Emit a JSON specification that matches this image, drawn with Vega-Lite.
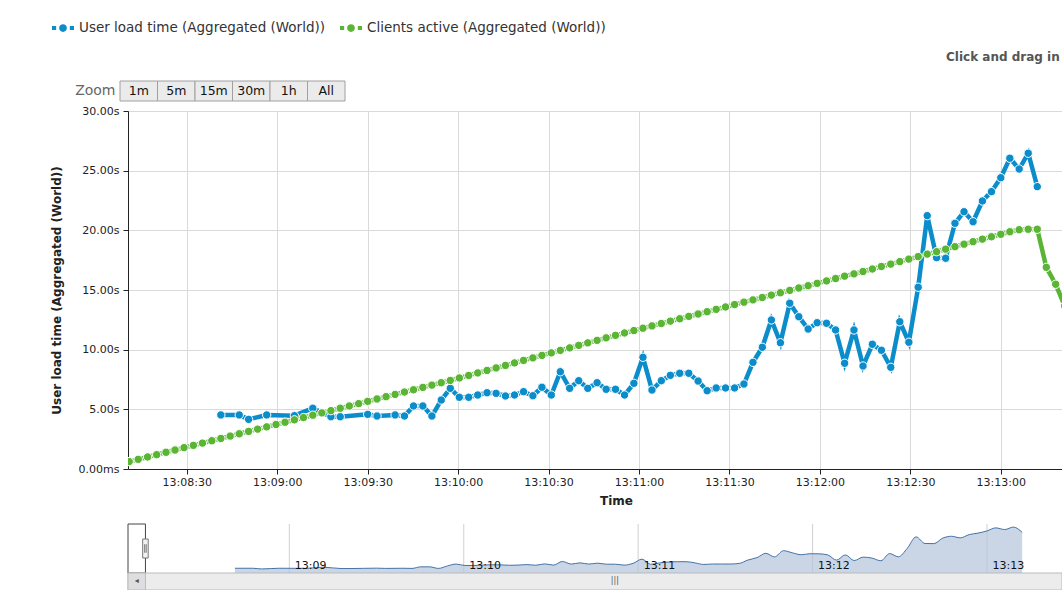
{
  "$schema": "https://vega.github.io/schema/vega-lite/v6.json",
  "background": "white",
  "autosize": {"type": "pad"},
  "padding": {"left": 50, "top": 15, "right": 0, "bottom": 0},
  "spacing": 3,
  "config": {
    "font": "DejaVu Sans",
    "view": {"stroke": null},
    "axis": {"labelFont": "DejaVu Sans", "titleFont": "DejaVu Sans"}
  },
  "data": {
    "values": [
      {"t": "2013-01-01T13:08:10.900", "clients": 0.62},
      {"t": "2013-01-01T13:08:13.900", "clients": 0.81},
      {"t": "2013-01-01T13:08:17.000", "clients": 1.01},
      {"t": "2013-01-01T13:08:20.000", "clients": 1.20},
      {"t": "2013-01-01T13:08:23.100", "clients": 1.40},
      {"t": "2013-01-01T13:08:26.100", "clients": 1.59},
      {"t": "2013-01-01T13:08:29.100", "clients": 1.79},
      {"t": "2013-01-01T13:08:32.200", "clients": 1.98},
      {"t": "2013-01-01T13:08:35.200", "clients": 2.17},
      {"t": "2013-01-01T13:08:38.300", "clients": 2.37},
      {"t": "2013-01-01T13:08:41.300", "load": 4.53, "clients": 2.56},
      {"t": "2013-01-01T13:08:44.400", "clients": 2.76},
      {"t": "2013-01-01T13:08:47.400", "load": 4.53, "clients": 2.95},
      {"t": "2013-01-01T13:08:50.500", "load": 4.16, "clients": 3.15},
      {"t": "2013-01-01T13:08:53.500", "clients": 3.34},
      {"t": "2013-01-01T13:08:56.500", "load": 4.53, "clients": 3.53},
      {"t": "2013-01-01T13:08:59.600", "clients": 3.73},
      {"t": "2013-01-01T13:09:02.600", "clients": 3.92},
      {"t": "2013-01-01T13:09:05.700", "load": 4.47, "clients": 4.12},
      {"t": "2013-01-01T13:09:08.700", "clients": 4.31},
      {"t": "2013-01-01T13:09:11.800", "load": 5.09, "clients": 4.51},
      {"t": "2013-01-01T13:09:14.800", "clients": 4.70},
      {"t": "2013-01-01T13:09:17.800", "load": 4.38, "clients": 4.89},
      {"t": "2013-01-01T13:09:20.900", "load": 4.38, "clients": 5.09},
      {"t": "2013-01-01T13:09:23.900", "clients": 5.28},
      {"t": "2013-01-01T13:09:27.000", "clients": 5.48},
      {"t": "2013-01-01T13:09:30.000", "load": 4.58, "clients": 5.67},
      {"t": "2013-01-01T13:09:33.100", "load": 4.44, "clients": 5.87},
      {"t": "2013-01-01T13:09:36.100", "clients": 6.06},
      {"t": "2013-01-01T13:09:39.100", "load": 4.53, "clients": 6.25},
      {"t": "2013-01-01T13:09:42.200", "load": 4.44, "clients": 6.45},
      {"t": "2013-01-01T13:09:45.200", "load": 5.28, "clients": 6.64},
      {"t": "2013-01-01T13:09:48.300", "load": 5.28, "clients": 6.84},
      {"t": "2013-01-01T13:09:51.300", "load": 4.44, "clients": 7.03},
      {"t": "2013-01-01T13:09:54.400", "load": 5.78, "clients": 7.23},
      {"t": "2013-01-01T13:09:57.400", "load": 6.76, "clients": 7.42},
      {"t": "2013-01-01T13:10:00.400", "load": 6.01, "clients": 7.63},
      {"t": "2013-01-01T13:10:03.500", "load": 6.01, "clients": 7.84},
      {"t": "2013-01-01T13:10:06.500", "load": 6.20, "clients": 8.05},
      {"t": "2013-01-01T13:10:09.600", "load": 6.39, "clients": 8.26},
      {"t": "2013-01-01T13:10:12.600", "load": 6.34, "clients": 8.47},
      {"t": "2013-01-01T13:10:15.700", "load": 6.12, "clients": 8.68},
      {"t": "2013-01-01T13:10:18.700", "load": 6.20, "clients": 8.89},
      {"t": "2013-01-01T13:10:21.700", "load": 6.48, "clients": 9.10},
      {"t": "2013-01-01T13:10:24.800", "load": 6.14, "clients": 9.31},
      {"t": "2013-01-01T13:10:27.800", "load": 6.85, "clients": 9.52},
      {"t": "2013-01-01T13:10:30.900", "load": 6.20, "clients": 9.73},
      {"t": "2013-01-01T13:10:33.900", "load": 8.15, "clients": 9.94},
      {"t": "2013-01-01T13:10:37.000", "load": 6.76, "clients": 10.15},
      {"t": "2013-01-01T13:10:40.000", "load": 7.40, "clients": 10.36},
      {"t": "2013-01-01T13:10:43.000", "load": 6.76, "clients": 10.57},
      {"t": "2013-01-01T13:10:46.100", "load": 7.23, "clients": 10.78},
      {"t": "2013-01-01T13:10:49.100", "load": 6.68, "clients": 10.99},
      {"t": "2013-01-01T13:10:52.200", "load": 6.68, "clients": 11.20},
      {"t": "2013-01-01T13:10:55.200", "load": 6.20, "clients": 11.40},
      {"t": "2013-01-01T13:10:58.300", "load": 7.18, "clients": 11.60},
      {"t": "2013-01-01T13:11:01.300", "load": 9.36, "clients": 11.80},
      {"t": "2013-01-01T13:11:04.300", "load": 6.62, "clients": 11.99},
      {"t": "2013-01-01T13:11:07.400", "load": 7.40, "clients": 12.19},
      {"t": "2013-01-01T13:11:10.400", "load": 7.85, "clients": 12.39},
      {"t": "2013-01-01T13:11:13.500", "load": 8.02, "clients": 12.59},
      {"t": "2013-01-01T13:11:16.500", "load": 8.02, "clients": 12.79},
      {"t": "2013-01-01T13:11:19.600", "load": 7.37, "clients": 12.99},
      {"t": "2013-01-01T13:11:22.600", "load": 6.56, "clients": 13.18},
      {"t": "2013-01-01T13:11:25.600", "load": 6.79, "clients": 13.38},
      {"t": "2013-01-01T13:11:28.700", "load": 6.79, "clients": 13.58},
      {"t": "2013-01-01T13:11:31.700", "load": 6.79, "clients": 13.78},
      {"t": "2013-01-01T13:11:34.800", "load": 7.12, "clients": 13.98},
      {"t": "2013-01-01T13:11:37.800", "load": 8.94, "clients": 14.17},
      {"t": "2013-01-01T13:11:40.900", "load": 10.20, "clients": 14.37},
      {"t": "2013-01-01T13:11:43.900", "load": 12.49, "clients": 14.57},
      {"t": "2013-01-01T13:11:46.900", "load": 10.58, "clients": 14.77},
      {"t": "2013-01-01T13:11:50.000", "load": 13.89, "clients": 14.97},
      {"t": "2013-01-01T13:11:53.000", "load": 12.76, "clients": 15.17},
      {"t": "2013-01-01T13:11:56.100", "load": 11.73, "clients": 15.36},
      {"t": "2013-01-01T13:11:59.100", "load": 12.26, "clients": 15.56},
      {"t": "2013-01-01T13:12:02.200", "load": 12.21, "clients": 15.76},
      {"t": "2013-01-01T13:12:05.200", "load": 11.65, "clients": 15.96},
      {"t": "2013-01-01T13:12:08.200", "load": 8.86, "clients": 16.16},
      {"t": "2013-01-01T13:12:11.300", "load": 11.65, "clients": 16.35},
      {"t": "2013-01-01T13:12:14.300", "load": 8.63, "clients": 16.55},
      {"t": "2013-01-01T13:12:17.400", "load": 10.45, "clients": 16.76},
      {"t": "2013-01-01T13:12:20.400", "load": 9.95, "clients": 16.97},
      {"t": "2013-01-01T13:12:23.500", "load": 8.52, "clients": 17.17},
      {"t": "2013-01-01T13:12:26.500", "load": 12.34, "clients": 17.38},
      {"t": "2013-01-01T13:12:29.500", "load": 10.62, "clients": 17.59},
      {"t": "2013-01-01T13:12:32.600", "load": 15.23, "clients": 17.80},
      {"t": "2013-01-01T13:12:35.600", "load": 21.23, "clients": 18.01},
      {"t": "2013-01-01T13:12:38.700", "load": 17.71, "clients": 18.21},
      {"t": "2013-01-01T13:12:41.700", "load": 17.66, "clients": 18.42},
      {"t": "2013-01-01T13:12:44.800", "load": 20.59, "clients": 18.63},
      {"t": "2013-01-01T13:12:47.800", "load": 21.56, "clients": 18.84},
      {"t": "2013-01-01T13:12:50.800", "load": 20.72, "clients": 19.05},
      {"t": "2013-01-01T13:12:53.900", "load": 22.46, "clients": 19.26},
      {"t": "2013-01-01T13:12:56.900", "load": 23.24, "clients": 19.46},
      {"t": "2013-01-01T13:13:00.000", "load": 24.41, "clients": 19.67},
      {"t": "2013-01-01T13:13:03.000", "load": 26.04, "clients": 19.88},
      {"t": "2013-01-01T13:13:06.100", "load": 25.14, "clients": 20.05},
      {"t": "2013-01-01T13:13:09.100", "load": 26.46, "clients": 20.09},
      {"t": "2013-01-01T13:13:12.100", "load": 23.66, "clients": 20.09},
      {"t": "2013-01-01T13:13:15.100", "clients": 16.90},
      {"t": "2013-01-01T13:13:18.200", "clients": 15.48},
      {"t": "2013-01-01T13:13:21.200", "clients": 13.66}
    ]
  },
  "vconcat": [
    {
      "width": 217,
      "height": 20,
      "data": {"values": [
        {"b": "1m", "row": "Zoom"},
        {"b": "5m", "row": "Zoom"},
        {"b": "15m", "row": "Zoom"},
        {"b": "30m", "row": "Zoom"},
        {"b": "1h", "row": "Zoom"},
        {"b": "All", "row": "Zoom"}
      ]},
      "title": {
        "text": "Click and drag in",
        "anchor": "start",
        "frame": "group",
        "dx": 818,
        "offset": 8,
        "baseline": "alphabetic",
        "font": "DejaVu Sans",
        "fontSize": 12,
        "fontWeight": "bold",
        "color": "#555555"
      },
      "encoding": {
        "x": {"field": "b", "type": "nominal", "sort": null, "scale": {"paddingInner": 0, "paddingOuter": 0, "range": [-8, 217]}, "axis": null},
        "y": {"field": "row", "type": "nominal", "scale": {"paddingInner": 0, "paddingOuter": 0},
              "axis": {"title": null, "domain": false, "ticks": false, "tickSize": 0, "labelFont": "DejaVu Sans", "labelFontSize": 14, "labelColor": "#666666", "labelPadding": 13}}
      },
      "layer": [
        {"mark": {"type": "rect", "stroke": "#a0a0a0", "strokeWidth": 1, "fill": "#ebebeb"}},
        {"mark": {"type": "text", "font": "DejaVu Sans", "fontSize": 12.5, "color": "#111111"},
         "encoding": {"text": {"field": "b"}}}
      ]
    },
    {
      "width": 934,
      "height": 358,
      "encoding": {
        "x": {
          "field": "t", "type": "temporal",
          "scale": {"nice": false, "domain": [
            {"year": 2013, "month": 1, "date": 1, "hours": 13, "minutes": 8, "seconds": 10, "milliseconds": 500},
            {"year": 2013, "month": 1, "date": 1, "hours": 13, "minutes": 13, "seconds": 20, "milliseconds": 300}
          ]},
          "axis": {
            "title": "Time", "titleX": 488, "titleFontSize": 12, "titleFontWeight": "bold", "titleColor": "#222222", "titlePadding": 8,
            "format": "%H:%M:%S",
            "values": [
              {"year": 2013, "month": 1, "date": 1, "hours": 13, "minutes": 8, "seconds": 30},
              {"year": 2013, "month": 1, "date": 1, "hours": 13, "minutes": 9, "seconds": 0},
              {"year": 2013, "month": 1, "date": 1, "hours": 13, "minutes": 9, "seconds": 30},
              {"year": 2013, "month": 1, "date": 1, "hours": 13, "minutes": 10, "seconds": 0},
              {"year": 2013, "month": 1, "date": 1, "hours": 13, "minutes": 10, "seconds": 30},
              {"year": 2013, "month": 1, "date": 1, "hours": 13, "minutes": 11, "seconds": 0},
              {"year": 2013, "month": 1, "date": 1, "hours": 13, "minutes": 11, "seconds": 30},
              {"year": 2013, "month": 1, "date": 1, "hours": 13, "minutes": 12, "seconds": 0},
              {"year": 2013, "month": 1, "date": 1, "hours": 13, "minutes": 12, "seconds": 30},
              {"year": 2013, "month": 1, "date": 1, "hours": 13, "minutes": 13, "seconds": 0}
            ],
            "grid": true, "gridColor": "#dadada", "domainColor": "#222222", "tickColor": "#222222", "tickSize": 5,
            "labelPadding": 2, "labelFontSize": 11, "labelColor": "#222222", "labelFlush": false, "labelOverlap": false
          }
        }
      },
      "layer": [
        {
          "transform": [{"filter": "isValid(datum.load)"}],
          "mark": {"type": "line", "strokeWidth": 4.5, "point": {"filled": true, "size": 70, "stroke": "white", "strokeWidth": 1, "opacity": 1}},
          "encoding": {
            "y": {"field": "load", "type": "quantitative", "scale": {"domain": [0, 30], "nice": false},
                  "axis": {"title": "User load time (Aggregated (World))", "values": [0, 5, 10, 15, 20, 25, 30],
                           "labelExpr": "datum.value === 0 ? '0.00ms' : format(datum.value, '.2f') + 's'",
                           "grid": true, "gridColor": "#dadada", "domainColor": "#222222", "tickColor": "#222222", "tickSize": 5,
                           "labelPadding": 4, "labelFontSize": 11, "labelColor": "#222222", "labelOverlap": false,
                           "titleFontSize": 12, "titleFontWeight": "bold", "titleColor": "#222222", "titlePadding": 15}},
            "color": {
              "datum": "User load time (Aggregated (World))", "type": "nominal",
              "scale": {"domain": ["User load time (Aggregated (World))", "Clients active (Aggregated (World))"], "range": ["#0b8dcb", "#5ab534"]},
              "legend": {
                "orient": "none", "legendX": -78, "legendY": -66, "direction": "horizontal", "title": null,
                "labelFont": "DejaVu Sans", "labelFontSize": 13.5, "labelColor": "#333333", "labelLimit": 600,
                "symbolType": "M-1,0H-0.62 M0.62,0H1 M-0.17,0A0.17,0.17,0,1,0,0.17,0A0.17,0.17,0,1,0,-0.17,0",
                "symbolSize": 484, "symbolStrokeWidth": 4, "symbolOpacity": 1, "labelOffset": 3, "columnPadding": 7
              }
            }
          }
        },
        {
          "mark": {"type": "line", "strokeWidth": 4.5, "clip": true, "point": {"filled": true, "size": 70, "stroke": "white", "strokeWidth": 1, "opacity": 1}},
          "encoding": {
            "y": {"field": "clients", "type": "quantitative",
                  "axis": {"title": "User load time (Aggregated (World))", "values": [0, 5, 10, 15, 20, 25, 30],
                           "labelExpr": "datum.value === 0 ? '0.00ms' : format(datum.value, '.2f') + 's'",
                           "grid": true, "gridColor": "#dadada", "domainColor": "#222222", "tickColor": "#222222", "tickSize": 5,
                           "labelPadding": 4, "labelFontSize": 11, "labelColor": "#222222", "labelOverlap": false,
                           "titleFontSize": 12, "titleFontWeight": "bold", "titleColor": "#222222", "titlePadding": 15}},
            "color": {"datum": "Clients active (Aggregated (World))", "type": "nominal"}
          }
        }
      ]
    },
    {
      "width": 934,
      "height": 81,
      "encoding": {
        "x": {
          "field": "t", "type": "temporal",
          "scale": {"nice": false, "domain": [
            {"year": 2013, "month": 1, "date": 1, "hours": 13, "minutes": 8, "seconds": 4, "milliseconds": 500},
            {"year": 2013, "month": 1, "date": 1, "hours": 13, "minutes": 13, "seconds": 25, "milliseconds": 800}
          ]},
          "axis": {
            "title": null, "format": "%H:%M", "zindex": 1,
            "values": [
              {"year": 2013, "month": 1, "date": 1, "hours": 13, "minutes": 9},
              {"year": 2013, "month": 1, "date": 1, "hours": 13, "minutes": 10},
              {"year": 2013, "month": 1, "date": 1, "hours": 13, "minutes": 11},
              {"year": 2013, "month": 1, "date": 1, "hours": 13, "minutes": 12},
              {"year": 2013, "month": 1, "date": 1, "hours": 13, "minutes": 13}
            ],
            "grid": false, "domain": false, "ticks": false, "tickSize": 0,
            "labelPadding": -22, "labelBaseline": "alphabetic", "labelAlign": "left", "labelOffset": 5,
            "labelFontSize": 11, "labelColor": "#111111", "labelFlush": false, "labelOverlap": false
          }
        }
      },
      "layer": [
        {
          "data": {"values": [{"t": "2013-01-01T13:09:00.000"}, {"t": "2013-01-01T13:10:00.000"}, {"t": "2013-01-01T13:11:00.000"}, {"t": "2013-01-01T13:12:00.000"}, {"t": "2013-01-01T13:13:00.000"}]},
          "mark": {"type": "rule", "color": "#d0d0d0", "strokeWidth": 1},
          "encoding": {
            "y": {"datum": 2, "type": "quantitative", "scale": {"domain": [-7.055, 36.09], "nice": false, "zero": false}, "axis": null},
            "y2": {"datum": 28.1}
          }
        },
        {
          "transform": [{"filter": "isValid(datum.load)"}],
          "mark": {"type": "area", "interpolate": "monotone", "fill": "#b3c5dc", "line": {"color": "#4572a7", "strokeWidth": 1}},
          "encoding": {
            "y": {"field": "load", "type": "quantitative", "axis": null},
            "y2": {"datum": 2}
          }
        },
        {
          "data": {"values": [{"t": "2013-01-01T13:08:04.500", "t2": "2013-01-01T13:08:10.500"}]},
          "mark": {"type": "rect", "fillOpacity": 0, "stroke": "#444444", "strokeWidth": 1},
          "encoding": {"x2": {"field": "t2"}, "y": {"datum": 2, "type": "quantitative", "axis": null}, "y2": {"datum": 28.1}}
        },
        {
          "data": {"values": [{"t": "2013-01-01T13:08:04.500", "t2": "2013-01-01T13:13:25.800"}]},
          "mark": {"type": "rect", "fill": "#ececec", "stroke": "#bbbbbb", "strokeWidth": 1},
          "encoding": {"x2": {"field": "t2"}, "y": {"datum": 2, "type": "quantitative", "axis": null}, "y2": {"datum": -7.055}}
        },
        {
          "data": {"values": [{"t": "2013-01-01T13:08:04.500", "t2": "2013-01-01T13:08:10.500"}]},
          "mark": {"type": "rect", "fill": "#dedede", "stroke": "#bbbbbb", "strokeWidth": 1},
          "encoding": {"x2": {"field": "t2"}, "y": {"datum": 2, "type": "quantitative", "axis": null}, "y2": {"datum": -7.055}}
        },
        {
          "data": {"values": [{"t": "2013-01-01T13:08:07.500", "g": "◂"}, {"t": "2013-01-01T13:10:52.000", "g": "|||"}]},
          "mark": {"type": "text", "font": "DejaVu Sans", "fontSize": 8, "color": "#555555", "baseline": "middle"},
          "encoding": {"y": {"datum": -2.5, "type": "quantitative", "axis": null}, "text": {"field": "g"}}
        },
        {
          "data": {"values": [{"t": "2013-01-01T13:08:10.500"}]},
          "mark": {"type": "point", "filled": true, "fill": "#f2f2f2", "stroke": "#777777", "strokeWidth": 1, "opacity": 1, "size": 361,
                   "shape": "M-0.29,-1H0.29V1H-0.29Z M-0.08,-0.45V0.45 M0.08,-0.45V0.45"},
          "encoding": {"y": {"datum": 15.05, "type": "quantitative", "axis": null}}
        }
      ]
    }
  ]
}
